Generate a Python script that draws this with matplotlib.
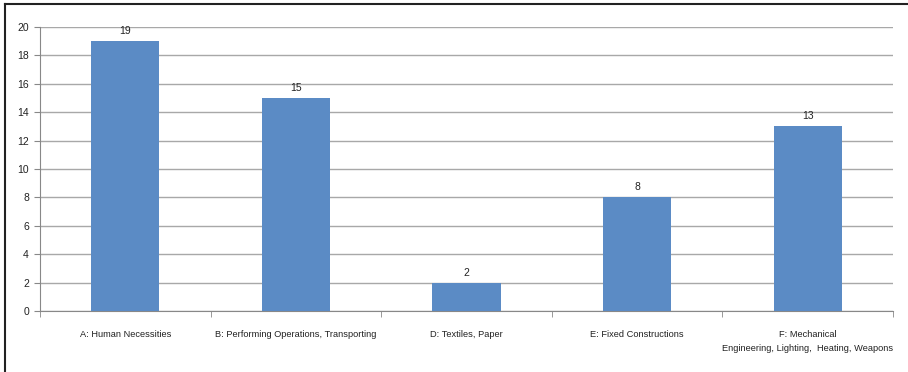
import matplotlib.pyplot as plt
from matplotlib.lines import Line2D

categories = ["A: Human Necessities", "B: Performing Operations, Transporting",
              "D: Textiles, Paper", "E: Fixed Constructions",
              "F: Mechanical\nEngineering, Lighting,  Heating, Weapons"]
counts = [19, 15, 2, 8, 13]
y_ticks = list(range(0, 21, 2))

plt.rcParams['font.family'] = ['Liberation Sans Narrow', 'Liberation Sans', 'DejaVu Sans']

fig = plt.figure(figsize=(9.08, 3.72), dpi=100)
ax = fig.add_axes([40 / 908, 1 - 311 / 372, 853 / 908, 284 / 372])

x = list(range(len(categories)))
bars = ax.bar(x, counts, width=0.4, color="#5b8bc5", zorder=3)
for xi, v in zip(x, counts):
    ax.text(xi, v + 0.35, str(v), ha="center", va="bottom", fontsize=7.5, color="#222222")

ax.set_xlim(-0.5, len(categories) - 0.5)
ax.set_ylim(0, 20)
ax.set_yticks(y_ticks)
ax.tick_params(axis="y", labelsize=7.5, length=4, color="#888888", pad=4, labelcolor="#222222")
ax.yaxis.grid(True, color="#a8a8a8", linewidth=1, zorder=0)

# category labels at centers, tick marks at boundaries
ax.set_xticks(x)
ax.set_xticklabels(categories, fontsize=6.7, color="#222222", linespacing=1.6)
ax.tick_params(axis="x", length=0, pad=14)
ax.set_xticks([i - 0.5 for i in range(len(categories) + 1)], minor=True)
ax.tick_params(axis="x", which="minor", length=4, color="#888888")

for side in ["top", "right"]:
    ax.spines[side].set_visible(False)
ax.spines["left"].set_color("#888888")
ax.spines["bottom"].set_color("#888888")

# outer frame (top and left edges)
fig.add_artist(Line2D([5 / 908, 5 / 908], [0, 1 - 4 / 372], transform=fig.transFigure, color="#222222", linewidth=1.5))
fig.add_artist(Line2D([5 / 908, 1], [1 - 4 / 372, 1 - 4 / 372], transform=fig.transFigure, color="#222222", linewidth=1.5))

fig.savefig("out.png", dpi=100)
